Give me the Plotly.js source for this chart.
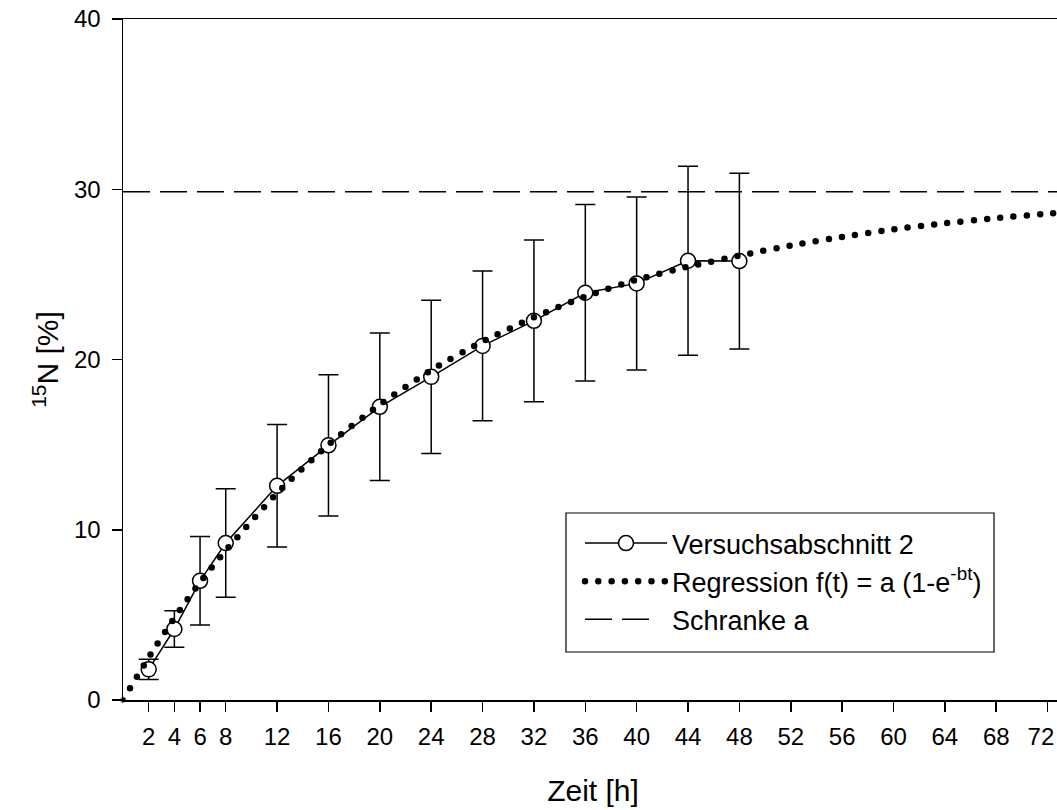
<!DOCTYPE html>
<html>
<head>
<meta charset="utf-8">
<script src="https://cdn.plot.ly/plotly-3.0.1.min.js"></script>
<style>
  html, body { margin: 0; padding: 0; background: #fff; overflow: hidden; }
  #wrap { width: 1057px; height: 810px; overflow: hidden; }
  #chart { width: 1063px; height: 810px; }
  /* round dots for the regression curve (2nd trace) */
  .scatterlayer .trace:nth-child(2) path.js-line,
  .legend .traces:nth-child(2) path.js-line {
    stroke-linecap: round !important;
    stroke-dasharray: 0 13.3 !important;
  }
  .legend .traces:nth-child(2) .scatterpts { display: none; }
  /* legend sample of the dashed bound: exactly two dashes */
  .legend .traces:nth-child(3) path.js-line {
    stroke-dasharray: 27 10 27 200 !important;
  }
</style>
</head>
<body>
<div id="wrap"><div id="chart"></div></div>
<script>
// Measured data (Versuchsabschnitt 2)
const zeit = [2, 4, 6, 8, 12, 16, 20, 24, 28, 32, 36, 40, 44, 48];
const n15 = [1.80, 4.17, 7.00, 9.22, 12.58, 14.96, 17.22, 18.98, 20.80, 22.27, 23.92, 24.47, 25.80, 25.78];
const fehler = [0.59, 1.07, 2.60, 3.19, 3.60, 4.15, 4.33, 4.50, 4.40, 4.75, 5.18, 5.08, 5.55, 5.16];

// Regression curve f(t) = a (1-e^-bt)
const regZeit = [0, 2, 4, 6, 8, 12, 16, 20, 24, 28, 32, 36, 40, 44, 48, 52, 56, 60, 64, 68, 72, 74];
const regWert = [0, 2.50, 4.82, 6.92, 8.78, 12.15, 15.0, 17.35, 19.38, 21.05, 22.48, 23.70, 24.68, 25.45, 26.10, 26.70, 27.20, 27.65, 28.00, 28.30, 28.57, 28.68];

// Schranke a
const schrankeA = 29.85;
const schrankeZeit = [0, 74];

const xTicks = [2, 4, 6, 8, 12, 16, 20, 24, 28, 32, 36, 40, 44, 48, 52, 56, 60, 64, 68, 72];
const xTickText = ['2', '4', '6', '8', '12', '16', '20', '24', '28', '32', '36', '40', '44', '48', '52', '56', '60', '64', '68', '72\u00a0\u00a0'];
const yTicks = [0, 10, 20, 30, 40];

const FONT = 'Liberation Sans, Arial, sans-serif';

const traces = [
  {
    x: zeit, y: n15, type: 'scatter', mode: 'lines+markers',
    name: 'Versuchsabschnitt 2',
    line: { color: '#000', width: 1.5 },
    marker: { symbol: 'circle', size: 15, color: '#fff', line: { color: '#000', width: 1.5 } },
    error_y: { type: 'data', array: fehler, visible: true, color: '#000', thickness: 1.5, width: 10 },
    cliponaxis: false
  },
  {
    x: regZeit, y: regWert, type: 'scatter', mode: 'lines+markers',
    name: 'Regression f(t) = a (1-e<sup>-bt</sup>)',
    line: { color: '#000', width: 6.5, shape: 'spline', smoothing: 0.6 },
    // only the curve's starting dot at the origin is shown as a marker (it sits on the axes)
    marker: { color: '#000', size: regZeit.map(t => (t === 0 ? 6.5 : 0)) },
    cliponaxis: false
  },
  {
    x: schrankeZeit, y: schrankeZeit.map(() => schrankeA), type: 'scatter', mode: 'lines',
    name: 'Schranke a',
    line: { color: '#000', width: 1.5, dash: '27px,10px' }
  }
];

const legendLeft = 580, legendTop = 519;
const plotL = 123, plotT = 19, plotW = 1063 - 123, plotH = 681;

const layout = {
  width: 1063, height: 810,
  margin: { l: 123, r: 0, t: 19, b: 110, pad: 0 },
  paper_bgcolor: '#fff', plot_bgcolor: '#fff',
  font: { family: FONT, size: 24, color: '#000' },
  showlegend: true,
  legend: {
    x: (legendLeft - plotL) / plotW, y: 1 - (legendTop - plotT) / plotH,
    xanchor: 'left', yanchor: 'top',
    bgcolor: 'rgba(0,0,0,0)', borderwidth: 0,
    font: { family: FONT, size: 27, color: '#000' },
    itemwidth: 82
  },
  shapes: [{
    type: 'rect', xref: 'paper', yref: 'paper', layer: 'below',
    x0: (566 - plotL) / plotW, x1: (994 - plotL) / plotW,
    y0: 1 - (652 - plotT) / plotH, y1: 1 - (513 - plotT) / plotH,
    line: { color: '#000', width: 1.2 }, fillcolor: '#fff'
  }],
  xaxis: {
    range: [0, 73.2], tickmode: 'array', tickvals: xTicks, ticktext: xTickText,
    ticks: 'outside', ticklen: 10, tickwidth: 1.5, tickcolor: '#000',
    showline: true, linecolor: '#000', linewidth: 1.5, mirror: true,
    showgrid: false, zeroline: false, ticklabeloverflow: 'allow',
    ticklabelstandoff: 5,
    tickfont: { family: FONT, size: 24 },
    title: { text: 'Zeit [h]', font: { family: FONT, size: 30 }, standoff: 30 }
  },
  yaxis: {
    range: [0, 40], tickmode: 'array', tickvals: yTicks, ticktext: yTicks.map(String),
    ticks: 'outside', ticklen: 10, tickwidth: 1.5, tickcolor: '#000',
    showline: true, linecolor: '#000', linewidth: 1.5, mirror: true,
    showgrid: false, zeroline: false,
    ticklabelstandoff: 6,
    tickfont: { family: FONT, size: 24 },
    title: { text: '<sup>15</sup>N [%]', font: { family: FONT, size: 30 }, standoff: 6 }
  }
};

Plotly.newPlot('chart', traces, layout, { staticPlot: true, displayModeBar: false });
</script>
</body>
</html>
